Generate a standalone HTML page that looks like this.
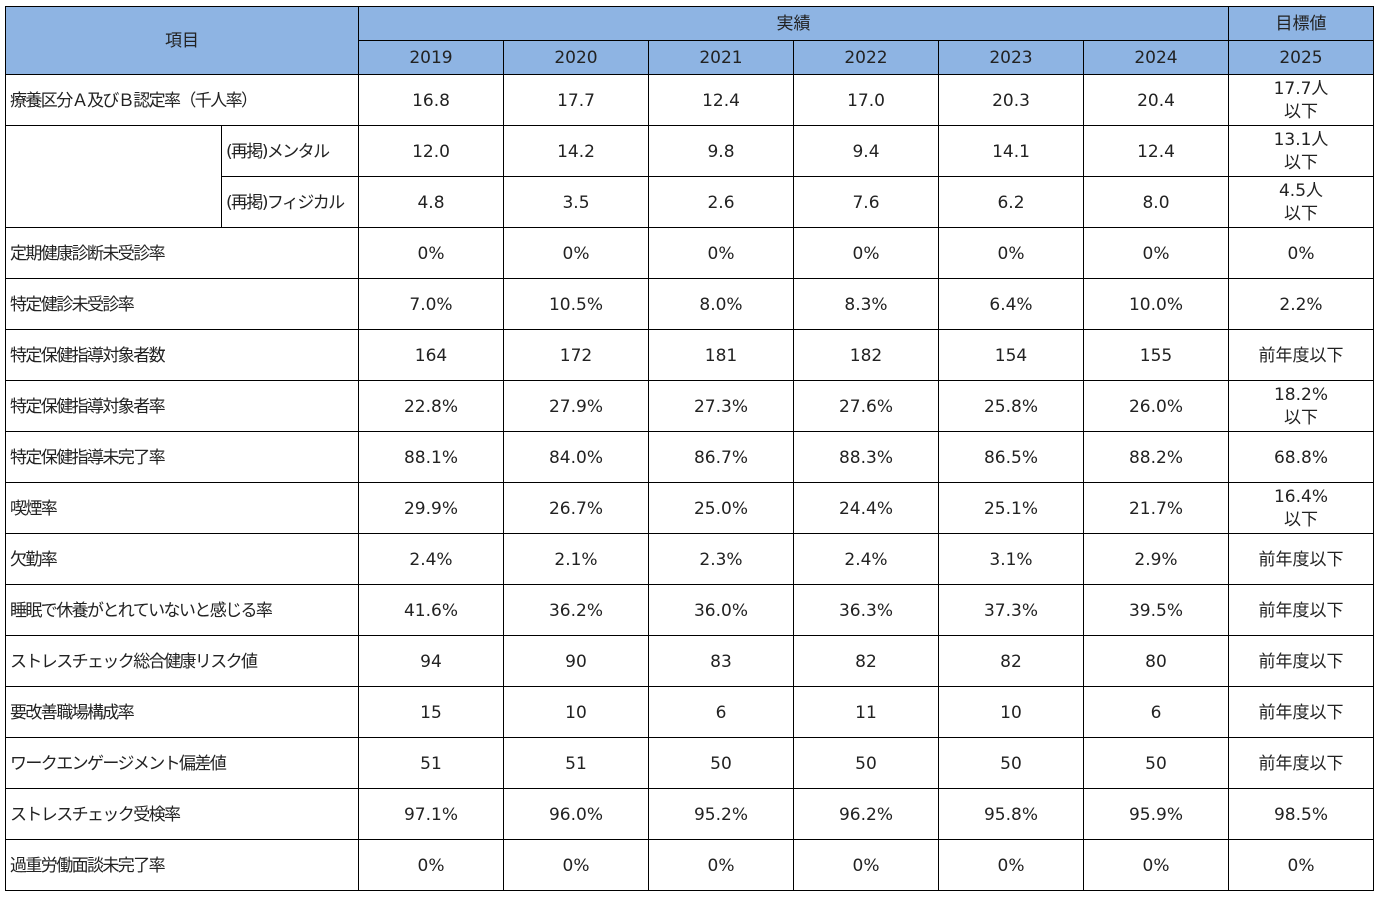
<!DOCTYPE html>
<html><head><meta charset="utf-8"><style>
html,body{margin:0;padding:0;background:#fff;width:1380px;height:899px;overflow:hidden}
table{position:absolute;left:5px;top:6px;border-collapse:collapse;table-layout:fixed;font-family:"DejaVu Sans","Noto Sans CJK JP",sans-serif;font-size:17px;color:#222}
td{border:1px solid #000;padding:2px 0 0 0;text-align:center;vertical-align:middle;line-height:23px;overflow:hidden;white-space:nowrap}
tr.h td{height:31px;background:#8eb4e3}
tr.d td{height:48px}
td.l{text-align:left;padding-left:4px;letter-spacing:-1.6px}
</style></head><body>
<table>
<colgroup><col style="width:216px"><col style="width:137px"><col style="width:145px"><col style="width:145px"><col style="width:145px"><col style="width:145px"><col style="width:145px"><col style="width:145px"><col style="width:145px"></colgroup>
<tr class="h"><td colspan="2" rowspan="2">項目</td><td colspan="6">実績</td><td>目標値</td></tr>
<tr class="h"><td>2019</td><td>2020</td><td>2021</td><td>2022</td><td>2023</td><td>2024</td><td>2025</td></tr>
<tr class="d"><td colspan="2" class="l">療養区分Ａ及びＢ認定率（千人率）</td><td>16.8</td><td>17.7</td><td>12.4</td><td>17.0</td><td>20.3</td><td>20.4</td><td>17.7人<br>以下</td></tr>
<tr class="d"><td rowspan="2" style="border-top:none"></td><td class="l">(再掲)メンタル</td><td>12.0</td><td>14.2</td><td>9.8</td><td>9.4</td><td>14.1</td><td>12.4</td><td>13.1人<br>以下</td></tr>
<tr class="d"><td class="l">(再掲)フィジカル</td><td>4.8</td><td>3.5</td><td>2.6</td><td>7.6</td><td>6.2</td><td>8.0</td><td>4.5人<br>以下</td></tr>
<tr class="d"><td colspan="2" class="l">定期健康診断未受診率</td><td>0%</td><td>0%</td><td>0%</td><td>0%</td><td>0%</td><td>0%</td><td>0%</td></tr>
<tr class="d"><td colspan="2" class="l">特定健診未受診率</td><td>7.0%</td><td>10.5%</td><td>8.0%</td><td>8.3%</td><td>6.4%</td><td>10.0%</td><td>2.2%</td></tr>
<tr class="d"><td colspan="2" class="l">特定保健指導対象者数</td><td>164</td><td>172</td><td>181</td><td>182</td><td>154</td><td>155</td><td>前年度以下</td></tr>
<tr class="d"><td colspan="2" class="l">特定保健指導対象者率</td><td>22.8%</td><td>27.9%</td><td>27.3%</td><td>27.6%</td><td>25.8%</td><td>26.0%</td><td>18.2%<br>以下</td></tr>
<tr class="d"><td colspan="2" class="l">特定保健指導未完了率</td><td>88.1%</td><td>84.0%</td><td>86.7%</td><td>88.3%</td><td>86.5%</td><td>88.2%</td><td>68.8%</td></tr>
<tr class="d"><td colspan="2" class="l">喫煙率</td><td>29.9%</td><td>26.7%</td><td>25.0%</td><td>24.4%</td><td>25.1%</td><td>21.7%</td><td>16.4%<br>以下</td></tr>
<tr class="d"><td colspan="2" class="l">欠勤率</td><td>2.4%</td><td>2.1%</td><td>2.3%</td><td>2.4%</td><td>3.1%</td><td>2.9%</td><td>前年度以下</td></tr>
<tr class="d"><td colspan="2" class="l">睡眠で休養がとれていないと感じる率</td><td>41.6%</td><td>36.2%</td><td>36.0%</td><td>36.3%</td><td>37.3%</td><td>39.5%</td><td>前年度以下</td></tr>
<tr class="d"><td colspan="2" class="l">ストレスチェック総合健康リスク値</td><td>94</td><td>90</td><td>83</td><td>82</td><td>82</td><td>80</td><td>前年度以下</td></tr>
<tr class="d"><td colspan="2" class="l">要改善職場構成率</td><td>15</td><td>10</td><td>6</td><td>11</td><td>10</td><td>6</td><td>前年度以下</td></tr>
<tr class="d"><td colspan="2" class="l">ワークエンゲージメント偏差値</td><td>51</td><td>51</td><td>50</td><td>50</td><td>50</td><td>50</td><td>前年度以下</td></tr>
<tr class="d"><td colspan="2" class="l">ストレスチェック受検率</td><td>97.1%</td><td>96.0%</td><td>95.2%</td><td>96.2%</td><td>95.8%</td><td>95.9%</td><td>98.5%</td></tr>
<tr class="d"><td colspan="2" class="l">過重労働面談未完了率</td><td>0%</td><td>0%</td><td>0%</td><td>0%</td><td>0%</td><td>0%</td><td>0%</td></tr>
</table>
</body></html>
